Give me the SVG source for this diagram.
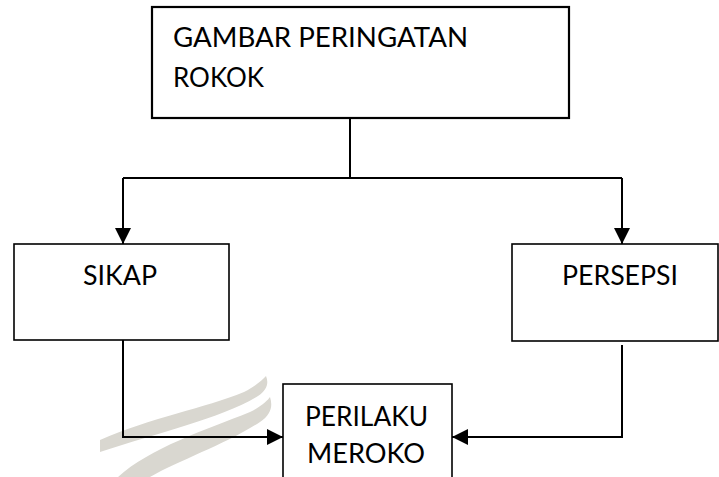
<svg xmlns="http://www.w3.org/2000/svg" width="719" height="477" viewBox="0 0 719 477">
<style>
.box{fill:#fff;stroke:#000;stroke-width:1.6}
.top{stroke-width:2.2}
.lbl{font-family:Lato,"Open Sans","Liberation Sans",sans-serif;font-size:27px;fill:#000}
.conn{fill:none;stroke:#000;stroke-width:2}
.wm{fill:#d9d7d0;stroke:none}
</style>
<defs>
<marker id="arr" markerUnits="userSpaceOnUse" markerWidth="16" markerHeight="16" refX="16" refY="8" orient="auto">
<path d="M0,0 L16,8 L0,16 Z" fill="#000"/>
</marker>
</defs>
<rect width="719" height="477" fill="#fff"/>
<g id="watermark">
<path class="wm" d="M100,440 C150,418 205,408 244,392 C256,386 262,380 266,376 C269,383 267,390 258,396 C222,418 160,432 100,452 Z"/>
<path class="wm" d="M118,477 C150,448 205,430 250,412 C262,406 268,400 270,397 C273,406 271,415 260,422 C226,444 180,460 150,477 Z"/>
</g>
<g id="connectors">
<path class="conn" d="M350,118 V178"/>
<path class="conn" d="M123,178 H622"/>
<path class="conn" d="M123,178 V244" marker-end="url(#arr)"/>
<path class="conn" d="M622,178 V244" marker-end="url(#arr)"/>
<path class="conn" d="M123,340 V437 H283" marker-end="url(#arr)"/>
<path class="conn" d="M622,345 V437 H452" marker-end="url(#arr)"/>
</g>
<g id="node-gambar">
<rect class="box top" x="152" y="7" width="417" height="111"/>
<text class="lbl" x="173" y="47" textLength="295" lengthAdjust="spacingAndGlyphs">GAMBAR PERINGATAN</text>
<text class="lbl" x="173" y="87" textLength="91" lengthAdjust="spacingAndGlyphs">ROKOK</text>
</g>
<g id="node-sikap">
<rect class="box" x="14" y="244" width="215" height="96"/>
<text class="lbl" x="83" y="285" textLength="74" lengthAdjust="spacingAndGlyphs">SIKAP</text>
</g>
<g id="node-persepsi">
<rect class="box" x="512" y="244" width="206" height="97"/>
<text class="lbl" x="562" y="285" textLength="116" lengthAdjust="spacingAndGlyphs">PERSEPSI</text>
</g>
<g id="node-perilaku">
<rect class="box" x="283" y="384" width="169" height="100"/>
<text class="lbl" x="305" y="426" textLength="123" lengthAdjust="spacingAndGlyphs">PERILAKU</text>
<text class="lbl" x="307" y="463" textLength="118" lengthAdjust="spacingAndGlyphs">MEROKO</text>
</g>
</svg>
